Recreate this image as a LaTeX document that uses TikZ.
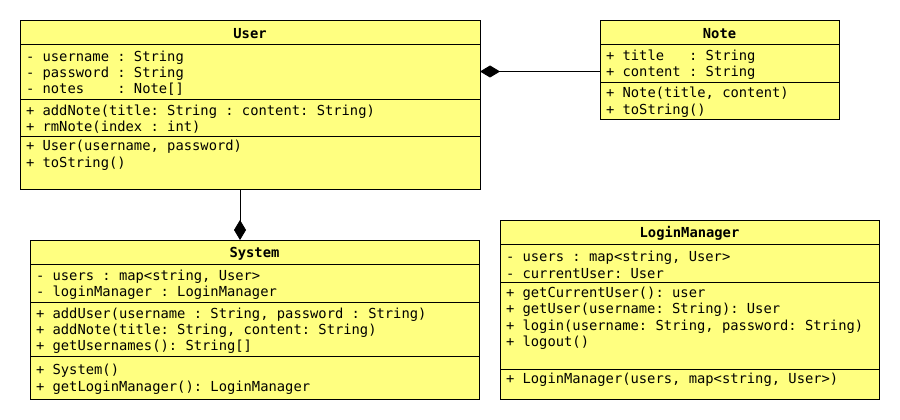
\documentclass[tikz,border=0pt]{standalone}
\usepackage{fontspec}
\usepackage{tikz}
\usetikzlibrary{arrows.meta,positioning}
\newfontfamily\umlfont{DejaVu Sans Mono}
\newcommand\umlsize{\fontsize{13.8}{16.4}\selectfont}
% full-width spaces and a common first-line height
\newcommand\umlstart{\spaceskip=\fontcharwd\font`\x\relax\xspaceskip=\spaceskip\rule{0pt}{14pt}}
\definecolor{umlyellow}{HTML}{FFFF80}
\tikzset{
    umlbox/.style = {
        draw=black,
        fill=umlyellow,
        line width=0.8pt,
        rectangle,
        inner sep=0pt,
        outer sep=0mm,
        execute at begin node=\umlstart
    },
    classnode/.style = {
        umlbox,
        font=\umlfont\bfseries\umlsize,
        align=center,
        minimum width=#1,
        minimum height=24pt,
        anchor=north west
    },
    membernode/.style = {
        umlbox,
        font=\umlfont\umlsize,
        align=left,
        text width=#1,
        inner xsep=6pt,
        inner ysep=0pt
    },
    composition/.style = {
        draw=black,
        line width=0.8pt,
        -{Diamond[length=20pt,width=12pt]}
    }
}

\begin{document}
\begin{tikzpicture}[x=1pt, y=-1pt]
    \useasboundingbox (0,0) rectangle (900,420);

    % User
    \node [classnode=460pt] (user) at (20,20) {User};
    \node [membernode=448pt, minimum height=55pt, below=0pt of user] (userattr)
        {- username : String\\- password : String\\- notes\ \ \ \ : Note[]};
    \node [membernode=448pt, minimum height=37pt, below=0pt of userattr] (userops)
        {+ addNote(title: String : content: String)\\+ rmNote(index : int)};
    \node [membernode=448pt, minimum height=53pt, below=0pt of userops] (userctor)
        {+ User(username, password)\\+ toString()\\\strut};

    % Note
    \node [classnode=239pt] (note) at (600,20) {Note};
    \node [membernode=227pt, minimum height=38pt, below=0pt of note] (noteattr)
        {+ title\ \ \ : String\\+ content : String};
    \node [membernode=227pt, minimum height=37pt, below=0pt of noteattr] (noteops)
        {+ Note(title, content)\\+ toString()};

    % System
    \node [classnode=449pt] (system) at (30,240) {System};
    \node [membernode=437pt, minimum height=38pt, below=0pt of system] (sysattr)
        {- users : map<string, User>\\- loginManager : LoginManager};
    \node [membernode=437pt, minimum height=54pt, below=0pt of sysattr] (sysops)
        {+ addUser(username : String, password : String)\\+ addNote(title: String, content: String)\\+ getUsernames(): String[]};
    \node [membernode=437pt, minimum height=43pt, below=0pt of sysops] (sysctor)
        {+ System()\\+ getLoginManager(): LoginManager};

    % LoginManager
    \node [classnode=379pt] (login) at (500,220) {LoginManager};
    \node [membernode=367pt, minimum height=38pt, below=0pt of login] (loginattr)
        {- users : map<string, User>\\- currentUser: User};
    \node [membernode=367pt, minimum height=87pt, below=0pt of loginattr] (loginops)
        {+ getCurrentUser(): user\\+ getUser(username: String): User\\+ login(username: String, password: String)\\+ logout()\\\strut};
    \node [membernode=367pt, minimum height=30pt, below=0pt of loginops] (loginctor)
        {+ LoginManager(users, map<string, User>)\\[-6pt]\strut};

    % compositions
    \draw [composition] (userattr.east -| noteattr.west) -- (userattr.east);
    \draw [composition] ([xshift=-10pt]userctor.south) -- ([xshift=-10pt]userctor.south |- system.north);
\end{tikzpicture}
\end{document}
